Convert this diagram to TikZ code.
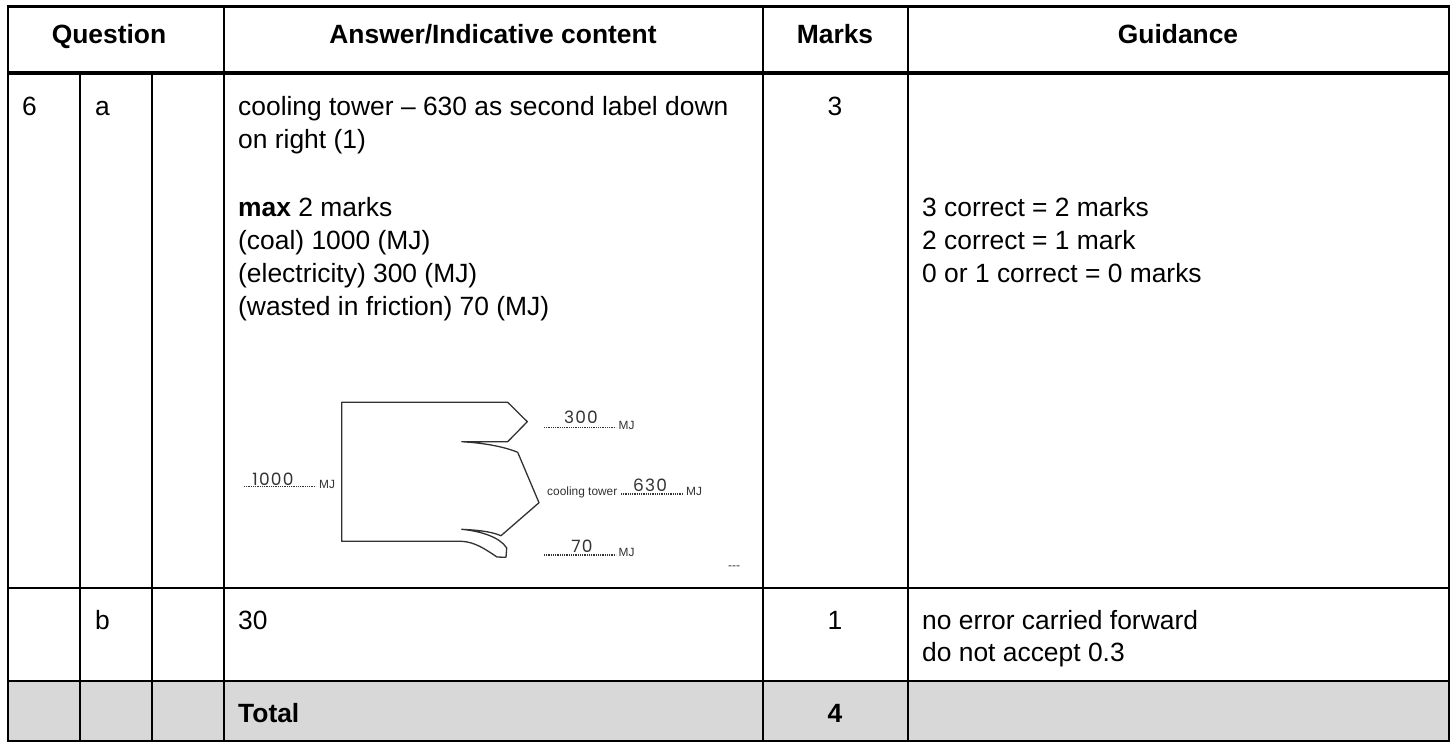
\documentclass[tikz,border=0pt]{standalone}
\usepackage{fontspec}
\setmainfont{Liberation Sans}
\newfontfamily\handfont[LetterSpace=7]{Poppins}
\definecolor{rowgrey}{RGB}{216,216,216}
\definecolor{sketch}{RGB}{50,50,50}
\tikzset{
  cell/.style={font=\fontsize{26.4}{26.4}\selectfont,inner sep=0pt,anchor=base west},
  headcell/.style={font=\fontsize{26.4}{26.4}\selectfont\bfseries,inner sep=0pt,anchor=base},
  markcell/.style={font=\fontsize{26.4}{26.4}\selectfont,inner sep=0pt,anchor=base},
  grid/.style={line width=2.4pt,black},
  thickrule/.style={line width=3.8pt,black},
  sketchline/.style={line width=1.3pt,sketch,line join=round},
  dots/.style={line width=1.1pt,sketch,dash pattern=on 1pt off 0.8pt},
  small/.style={font=\fontsize{11.9}{11.9}\selectfont,text=sketch,inner sep=0pt,anchor=base west},
  hand/.style={font=\handfont\fontsize{17}{17}\selectfont,text=sketch,inner sep=0pt,anchor=base},
}
\begin{document}
\begin{tikzpicture}[x=1pt,y=-1pt]
\useasboundingbox (0,0) rectangle (1453,742);
\fill[white] (0,0) rectangle (1453,742);
\fill[rowgrey] (8,681) rectangle (1449,741);
% grid
\foreach \xx in {224,763,908}{\draw[grid] (\xx,6) -- (\xx,741);}
\foreach \xx in {80,152}{\draw[grid] (\xx,73) -- (\xx,741);}
\draw[grid] (8,588) -- (1449,588);
\draw[grid] (8,681) -- (1449,681);
\draw[thickrule] (8,73) -- (1449,73);
\draw[line width=2.8pt] (8,6.5) rectangle (1449,741);
% header
\node[headcell] (hq) at (109,43) {Question};
\node[headcell] (ha) at (493,43) {Answer/Indicative content};
\node[headcell] (hm) at (835,43) {Marks};
\node[headcell] (hg) at (1178,43) {Guidance};
% row a
\node[cell] (q6) at (22,115) {6};
\node[cell] (qa) at (95,115) {a};
\node[cell] (a1) at (238,115) {cooling tower – 630 as second label down};
\node[cell] (a2) at (238,148) {on right (1)};
\node[cell] (a3) at (238,216) {\textbf{max} 2 marks};
\node[cell] (a4) at (238,249) {(coal) 1000 (MJ)};
\node[cell] (a5) at (238,282) {(electricity) 300 (MJ)};
\node[cell] (a6) at (238,315) {(wasted in friction) 70 (MJ)};
\node[markcell] (m3) at (835,115) {3};
\node[cell] (g1) at (922,216) {3 correct = 2 marks};
\node[cell] (g2) at (922,249) {2 correct = 1 mark};
\node[cell] (g3) at (922,282) {0 or 1 correct = 0 marks};
% row b
\node[cell] (qb) at (95,629) {b};
\node[cell] (b30) at (238,629) {30};
\node[markcell] (m1) at (835,629) {1};
\node[cell] (g4) at (922,629) {no error carried forward};
\node[cell] (g5) at (922,661) {do not accept 0.3};
% total
\node[cell] (tot) at (238,722) {\textbf{Total}};
\node[markcell] (m4) at (835,722) {\textbf{4}};
% sankey
\draw[sketchline] (341.7,402.3) -- (507.7,402.3) -- (527.3,421.7) -- (507.7,441.7) -- (461.7,441.7)
  .. controls (485,443) and (505,447) .. (517.7,452.3) -- (539,502.7) -- (501,535.7)
  .. controls (490,531) and (475,530) .. (461.7,529.3)
  .. controls (480,531) and (500,537) .. (506.7,548) -- (506,557.3) -- (497,557)
  .. controls (485,549) and (475,542) .. (461.7,541.3) -- (341.7,541.3) -- cycle;
% labels
\coordinate (d1a) at (244,486.7); \coordinate (d1b) at (316,486.7);
\coordinate (d2a) at (544,427.3); \coordinate (d2b) at (616,427.3);
\coordinate (d3a) at (621,494);   \coordinate (d3b) at (683,494);
\coordinate (d4a) at (544,555);   \coordinate (d4b) at (616,555);
\foreach \pa/\pb in {d1a/d1b,d2a/d2b,d3a/d3b,d4a/d4b}{\draw[dots] (\pa) -- (\pb);}
\node[hand] (v1000) at (273,485) {1000};
\node[hand] (v300) at (581,423) {300};
\node[hand] (v630) at (650,491) {630};
\node[hand] (v70) at (582,552) {70};
\node[small] (mj1) at (319,488) {MJ};
\node[small] (mj2) at (618.5,429) {MJ};
\node[small] (mj3) at (686,495.5) {MJ};
\node[small] (mj4) at (618.5,556) {MJ};
\node[small] (ct) at (547,495.5) {cooling tower};
\node[small] (ticks) at (728,569) {{-}{-}{-}};
\end{tikzpicture}
\end{document}
